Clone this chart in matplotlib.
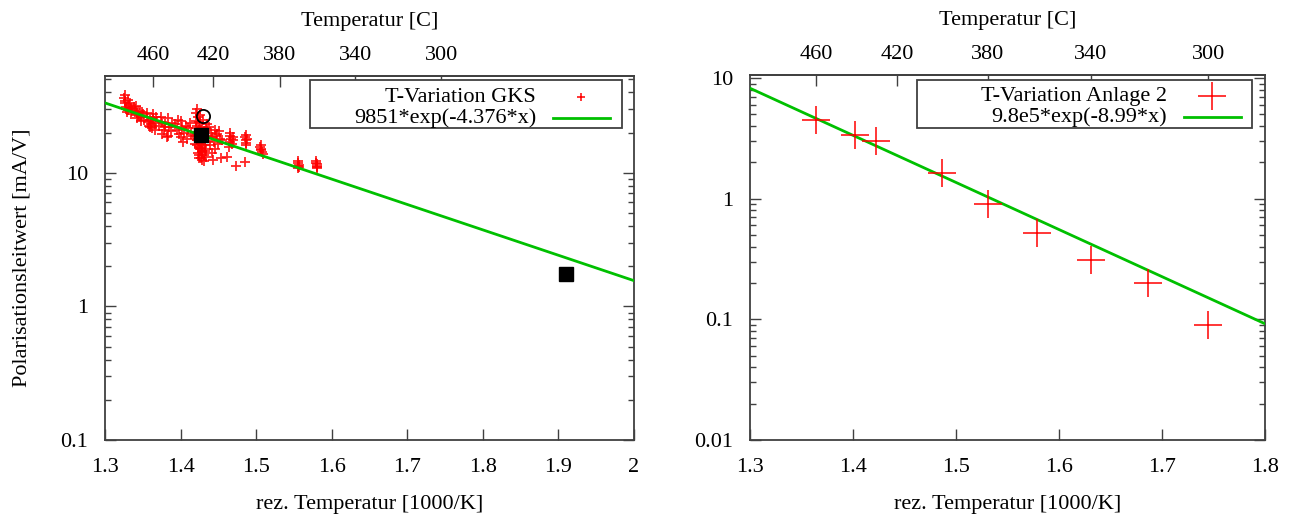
import numpy as np
import matplotlib
matplotlib.use('Agg')
import matplotlib.pyplot as plt
from matplotlib.patches import Rectangle
from matplotlib.ticker import LogLocator, NullFormatter

plt.rcParams['font.family'] = ['Liberation Serif', 'DejaVu Serif']
plt.rcParams['font.size'] = 16

# --- left plot: T-Variation GKS ---
gks_x = [1.325, 1.327, 1.328, 1.330, 1.326, 1.332, 1.329, 1.334, 1.331, 1.336,
         1.326, 1.328, 1.333, 1.335, 1.338,
         1.340, 1.342, 1.344, 1.346, 1.348, 1.343, 1.350, 1.347, 1.341, 1.345,
         1.349, 1.352,
         1.355, 1.357, 1.359, 1.361, 1.363, 1.360, 1.365, 1.367, 1.362, 1.368,
         1.356, 1.358, 1.364, 1.366,
         1.372, 1.375, 1.378, 1.380, 1.383, 1.385, 1.387, 1.376, 1.382,
         1.374, 1.379, 1.384, 1.389,
         1.393, 1.395, 1.398, 1.400, 1.402, 1.405, 1.408, 1.410, 1.412, 1.403,
         1.396, 1.401, 1.407, 1.414,
         1.421, 1.423, 1.425, 1.422, 1.424, 1.426, 1.421, 1.423, 1.425, 1.427,
         1.422, 1.424, 1.426, 1.428, 1.423, 1.425, 1.427, 1.429, 1.431, 1.433,
         1.430, 1.432, 1.434, 1.429, 1.431, 1.424, 1.428, 1.433, 1.435, 1.421,
         1.426, 1.430, 1.420, 1.422, 1.427, 1.432, 1.436, 1.419, 1.429, 1.434,
         1.422, 1.426, 1.431, 1.425, 1.428,
         1.440, 1.442, 1.444, 1.446, 1.448, 1.450, 1.452, 1.445, 1.455, 1.441,
         1.443, 1.453, 1.439, 1.447, 1.451,
         1.465, 1.467, 1.466, 1.468, 1.470, 1.464, 1.466, 1.469,
         1.485, 1.486, 1.487, 1.488, 1.486, 1.485, 1.487,
         1.505, 1.507, 1.508, 1.506, 1.509, 1.507,
         1.555, 1.556, 1.557, 1.555, 1.556, 1.557,
         1.579, 1.580, 1.581, 1.580, 1.579, 1.581,
         1.473, 1.461, 1.417, 1.437]
gks_y = [36.0, 33.0, 31.0, 29.5, 34.5, 32.0, 28.5, 30.5, 35.0, 29.0,
         38.0, 30.0, 33.5, 27.5, 31.0,
         30.0, 28.0, 27.0, 29.0, 26.0, 25.5, 27.5, 24.5, 31.5, 26.5,
         28.5, 25.0,
         26.0, 24.0, 25.0, 23.0, 27.5, 22.0, 24.5, 23.5, 21.5, 26.0,
         28.0, 22.5, 25.5, 21.0,
         22.5, 24.0, 21.0, 23.0, 25.5, 22.0, 20.5, 19.5, 18.5,
         26.0, 22.0, 19.0, 23.5,
         23.0, 21.0, 19.5, 24.5, 22.0, 20.0, 18.0, 21.5, 23.5, 17.0,
         25.0, 18.5, 22.5, 19.5,
         28.0, 26.0, 24.0, 22.5, 21.0, 20.0, 19.0, 18.0, 17.0, 16.5,
         16.0, 15.5, 15.0, 14.5, 14.0, 13.5, 13.0, 22.0, 20.5, 19.0,
         17.5, 16.0, 15.0, 14.2, 13.6, 12.8, 12.5, 21.5, 23.0, 24.5,
         27.0, 25.0, 21.5, 17.5, 15.2, 14.6, 18.2, 16.5, 19.8, 13.2,
         30.0, 23.5, 12.2, 18.6, 16.2,
         20.0, 18.5, 17.0, 21.0, 19.5, 16.5, 18.0, 15.0, 17.5, 14.0,
         12.5, 13.0, 16.0, 19.0, 20.5,
         19.0, 18.0, 17.0, 16.5, 18.5, 15.5, 19.8, 17.5,
         18.5, 17.5, 16.8, 18.0, 16.0, 12.0, 19.2,
         15.5, 14.8, 14.2, 15.0, 13.8, 16.0,
         11.8, 11.2, 11.5, 10.9, 12.2, 11.0,
         11.9, 11.3, 11.6, 10.9, 12.3, 11.1,
         11.3, 13.2, 18.8, 22.0]
sq_x = [1.427, 1.910]
sq_y = [19.3, 1.75]
circ_x = [1.430]
circ_y = [26.5]
gks_fit = (9851, -4.376)

# --- right plot: T-Variation Anlage 2 ---
anl_x = [1.364, 1.402, 1.422, 1.486, 1.531, 1.579, 1.631, 1.686, 1.745]
anl_y = [4.50, 3.38, 2.98, 1.63, 0.908, 0.517, 0.309, 0.200, 0.090]
anl_fit = (9.8e5, -8.99)

temp_ticks = [460, 420, 380, 340, 300]

RED = '#ff0000'
GREEN = '#00c000'
FRAME = '#404040'


def k2c(x):
    x = np.asarray(x, dtype=float)
    with np.errstate(divide='ignore'):
        return 1000.0 / x - 273.15


def c2k(t):
    t = np.asarray(t, dtype=float)
    with np.errstate(divide='ignore'):
        return 1000.0 / (t + 273.15)


def style(ax, xticks, yticks, ylim):
    ax.set_yscale('log')
    ax.set_xlim(xticks[0], xticks[-1])
    ax.set_ylim(*ylim)
    ax.set_xticks(xticks)
    ax.set_xticklabels([f'{t:g}' for t in xticks])
    ax.set_yticks(yticks)
    ax.set_yticklabels([f'{t:g}' for t in yticks])
    ax.yaxis.set_minor_locator(LogLocator(base=10, subs=range(2, 10)))
    ax.yaxis.set_minor_formatter(NullFormatter())
    ax.tick_params(which='both', direction='in', right=True, top=False, color=FRAME)
    ax.tick_params(which='major', length=8, width=1)
    ax.tick_params(which='minor', length=4, width=1)
    ax.tick_params(axis='x', pad=13)
    ax.tick_params(axis='y', pad=12)
    for s in ax.spines.values():
        s.set_color(FRAME)
        s.set_linewidth(1.3)
    ax.set_xlabel('rez. Temperatur [1000/K]')
    ax.xaxis.set_label_coords(0.5, -0.15)
    sec = ax.secondary_xaxis('top', functions=(k2c, c2k))
    sec.set_xticks(temp_ticks)
    sec.set_xticklabels([str(t) for t in temp_ticks])
    sec.tick_params(direction='in', length=8, width=1, color=FRAME, pad=8)
    sec.spines['top'].set_color(FRAME)
    sec.spines['top'].set_linewidth(1.3)
    sec.set_xlabel('Temperatur [C]', labelpad=14)


def key(ax, box, tx, mx, lx, label1, label2, msize):
    ax.add_patch(Rectangle((box[0], box[2]), box[1] - box[0], box[3] - box[2],
                           transform=ax.transAxes, fill=True, facecolor='white',
                           edgecolor=FRAME, lw=1.3, zorder=5))
    ax.text(tx, 0.942, label1, transform=ax.transAxes, ha='right', va='center', zorder=6)
    ax.text(tx, 0.885, label2, transform=ax.transAxes, ha='right', va='center', zorder=6)
    ax.plot([mx], [0.942], '+', color=RED, ms=msize, mew=1.1,
            transform=ax.transAxes, zorder=6, clip_on=False)
    ax.plot(lx, [0.885, 0.885], color=GREEN, lw=2, transform=ax.transAxes, zorder=6)


fig = plt.figure(figsize=(12.92, 5.15), dpi=100)

# left panel
ax1 = fig.add_axes([105 / 1292, 75 / 515, 529 / 1292, 364 / 515])
xf = np.linspace(1.3, 2.0, 300)
ax1.plot(gks_x, gks_y, '+', color=RED, ms=7, mew=1.3, alpha=0.85, zorder=2)
ax1.plot(xf, gks_fit[0] * np.exp(gks_fit[1] * xf), color=GREEN, lw=2, zorder=3)
ax1.plot(sq_x, sq_y, 's', color='black', ms=10, zorder=4)
ax1.plot(circ_x, circ_y, 'o', mfc='none', mec='black', ms=9.5, mew=1.3, zorder=4)
style(ax1, [1.3, 1.4, 1.5, 1.6, 1.7, 1.8, 1.9, 2.0], [0.1, 1, 10], (0.1, 53))
ax1.set_ylabel('Polarisationsleitwert [mA/V]')
ax1.yaxis.set_label_coords(-0.138, 0.5)
key(ax1, (0.3875, 0.977, 0.857, 0.989), 0.815, 0.90, [0.847, 0.955],
    'T-Variation GKS', '9851*exp(-4.376*x)', 6)

# right panel
ax2 = fig.add_axes([750 / 1292, 75 / 515, 515 / 1292, 365 / 515])
xf2 = np.linspace(1.3, 1.8, 300)
ax2.plot(xf2, anl_fit[0] * np.exp(anl_fit[1] * xf2), color=GREEN, lw=2, zorder=3)
ax2.plot(anl_x, anl_y, '+', color=RED, ms=20, mew=1.1, zorder=4)
style(ax2, [1.3, 1.4, 1.5, 1.6, 1.7, 1.8], [0.01, 0.1, 1, 10], (0.01, 10.6))
key(ax2, (0.325, 0.975, 0.855, 0.986), 0.81, 0.897, [0.843, 0.953],
    'T-Variation Anlage 2', '9.8e5*exp(-8.99*x)', 20)

fig.savefig('out.png', dpi=100)
